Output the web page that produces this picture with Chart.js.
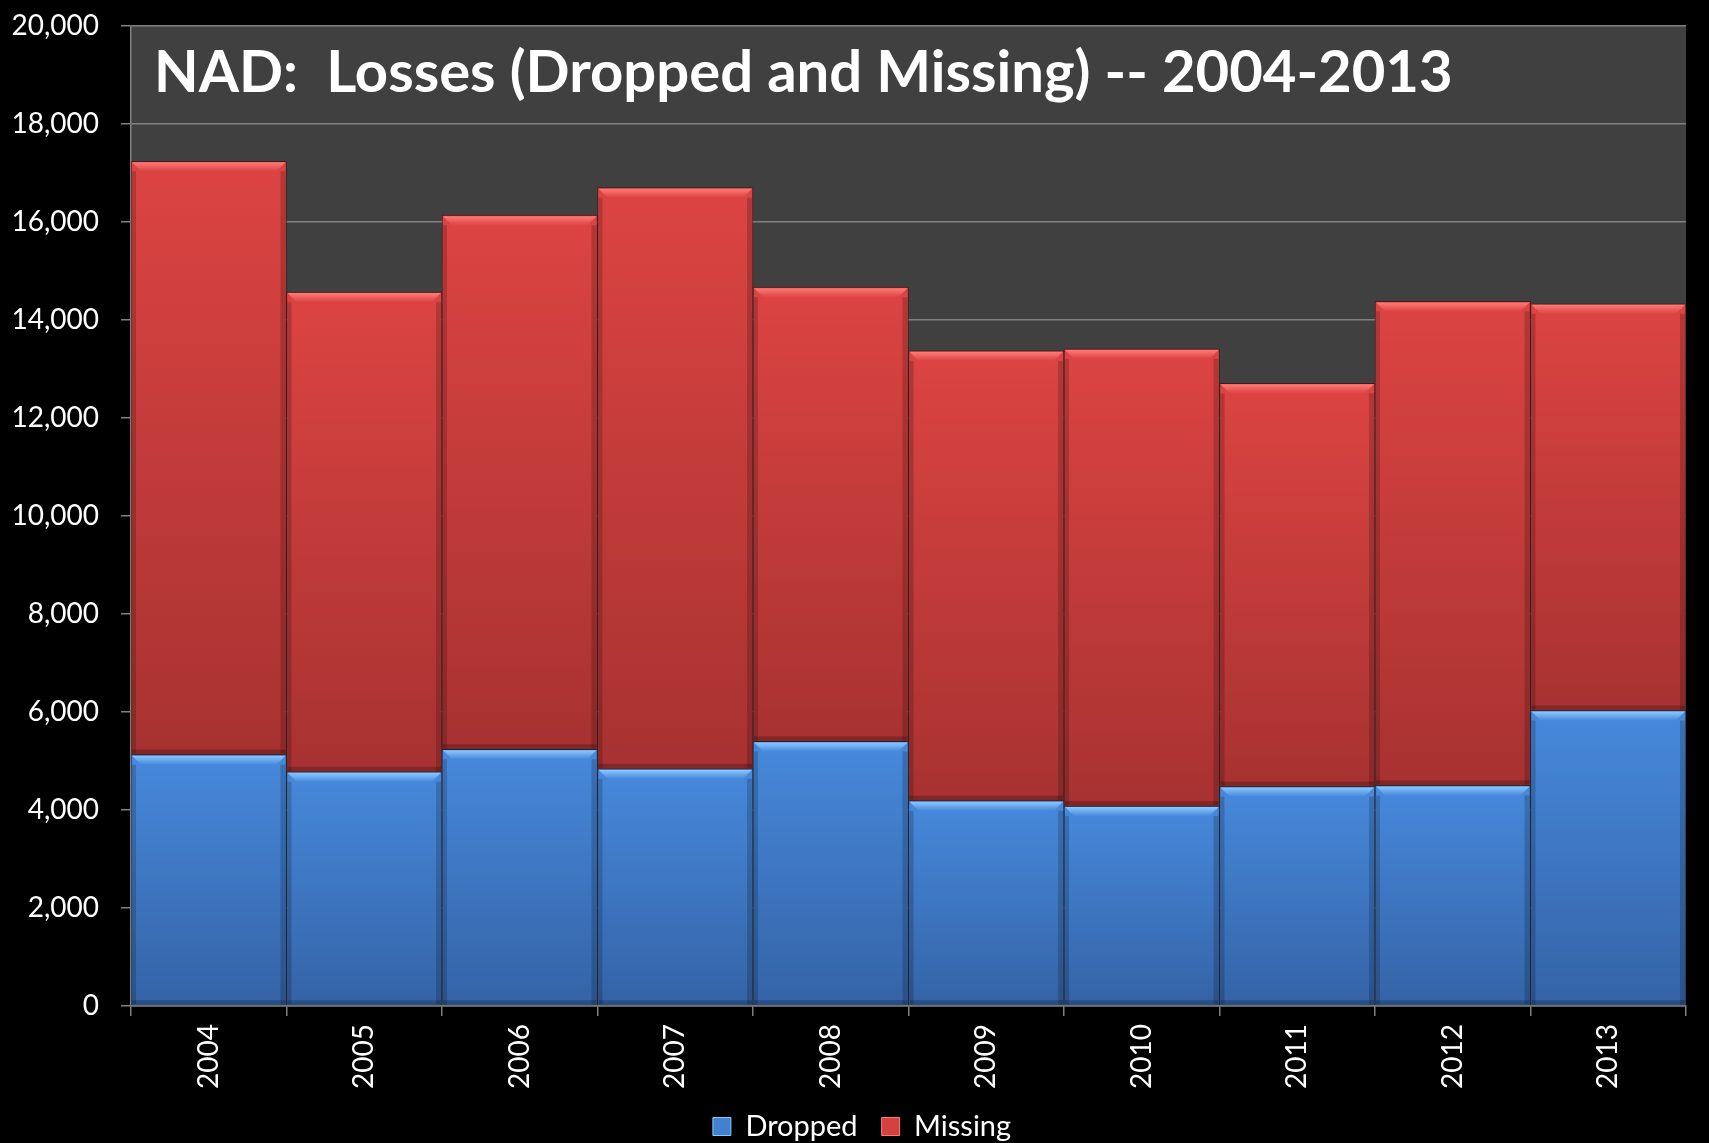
<!DOCTYPE html>
<html>
<head>
<meta charset="utf-8">
<script src="https://cdn.jsdelivr.net/npm/chart.js@4.4.1/dist/chart.umd.min.js"></script>
<style>
  html, body { margin: 0; padding: 0; background: #000; }
  #wrap { width: 1709px; height: 1143px; }
</style>
</head>
<body>
<div id="wrap"><canvas id="myChart"></canvas></div>
<script>
// data
const years = ['2004', '2005', '2006', '2007', '2008', '2009', '2010', '2011', '2012', '2013'];
const dropped = [5130, 4780, 5240, 4840, 5400, 4190, 4080, 4480, 4500, 6030];
const missing = [12110, 9790, 10900, 11860, 9270, 9180, 9330, 8230, 9880, 8300];
const seriesNames = ['Dropped', 'Missing'];
const yTicks = { min: 0, max: 20000, step: 2000 };
const TITLE = 'NAD:  Losses (Dropped and Missing) -- 2004-2013';

const FONT = 'Lato, "Open Sans", sans-serif';
const BLUE = { top: '#4789dc', bottom: '#3463a6', light: '#8cc8ff', solid: '#4181d2' };
const RED = { top: '#dc4442', bottom: '#a73231', light: '#ff7a76', solid: '#d44240' };

// gradient for each stacked segment, top to bottom of that segment
function segmentFill(pal) {
    return function (ctx) {
        const chart = ctx.chart;
        const y = chart.scales.y;
        if (!chart.chartArea || !y || ctx.type !== 'data') return pal.solid;
        const i = ctx.dataIndex;
        let lo = 0, hi = dropped[i];
        if (ctx.datasetIndex === 1) { lo = dropped[i]; hi = dropped[i] + missing[i]; }
        const yTop = y.getPixelForValue(hi);
        const yBot = y.getPixelForValue(lo);
        if (!isFinite(yTop) || !isFinite(yBot) || yTop === yBot) return pal.solid;
        const g = chart.ctx.createLinearGradient(0, yTop, 0, yBot);
        g.addColorStop(0, pal.top);
        g.addColorStop(1, pal.bottom);
        return g;
    };
}

// black page, dark grey plot area
const background = {
    id: 'background',
    beforeDraw(chart) {
        const { ctx, chartArea: a } = chart;
        ctx.save();
        ctx.fillStyle = '#000';
        ctx.fillRect(0, 0, chart.width, chart.height);
        ctx.fillStyle = '#404040';
        ctx.fillRect(a.left, a.top, a.right - a.left, a.bottom - a.top);
        ctx.restore();
    }
};

// center the legend under the plot area rather than the whole canvas
const legendUnderPlot = {
    id: 'legendUnderPlot',
    afterLayout(chart) {
        const lg = chart.legend;
        if (!lg) return;
        lg.left = chart.chartArea.left - 93;
        lg.right = chart.chartArea.right;
    }
};

// bevel strip along the top of each segment
const bevel = {
    id: 'bevel',
    afterDatasetsDraw(chart) {
        const ctx = chart.ctx;
        chart.data.datasets.forEach(function (ds, di) {
            const pal = di === 0 ? BLUE : RED;
            chart.getDatasetMeta(di).data.forEach(function (bar) {
                const l = bar.x - bar.width / 2 + 1, r = bar.x + bar.width / 2 - 1;
                const t = bar.y + 1, d = 9;
                ctx.save();
                const g = ctx.createLinearGradient(0, t, 0, t + d);
                g.addColorStop(0, pal.light);
                g.addColorStop(1, pal.top);
                ctx.fillStyle = g;
                ctx.beginPath();
                ctx.moveTo(l, t);
                ctx.lineTo(r, t);
                ctx.lineTo(r - d, t + d);
                ctx.lineTo(l + d, t + d);
                ctx.closePath();
                ctx.fill();
                // darker edges on the sides and bottom
                ctx.fillStyle = 'rgba(0,0,0,0.18)';
                ctx.fillRect(r - 5, t + d, 5, bar.base - t - d - 1);
                ctx.fillRect(l, t + d, 4, bar.base - t - d - 1);
                ctx.fillStyle = 'rgba(0,0,0,0.22)';
                ctx.fillRect(l, bar.base - 5, r - l, 5);
                ctx.restore();
            });
        });
    }
};

// title written inside the plot area
const plotTitle = {
    id: 'plotTitle',
    afterDatasetsDraw(chart) {
        const { ctx, chartArea: a } = chart;
        ctx.save();
        ctx.font = 'bold 58px ' + FONT;
        ctx.fillStyle = '#ffffff';
        ctx.textAlign = 'left';
        ctx.textBaseline = 'alphabetic';
        ctx.fillText(TITLE, a.left + 23, a.top + 66);
        ctx.restore();
    }
};

const myChart = new Chart(document.getElementById('myChart'), {
    type: 'bar',
    data: {
        labels: years,
        datasets: [{
            label: seriesNames[0],
            data: dropped,
            backgroundColor: segmentFill(BLUE),
            borderColor: 'rgba(20,30,50,0.7)',
            borderWidth: 1,
            categoryPercentage: 1,
            barPercentage: 1
        }, {
            label: seriesNames[1],
            data: missing,
            backgroundColor: segmentFill(RED),
            borderColor: 'rgba(60,15,15,0.7)',
            borderWidth: 1,
            categoryPercentage: 1,
            barPercentage: 1
        }]
    },
    options: {
        responsive: true,
        maintainAspectRatio: false,
        animation: false,
        layout: { padding: { top: 26, right: 23, left: 0, bottom: -8 } },
        plugins: {
            tooltip: { enabled: false },
            legend: {
                position: 'bottom',
                labels: {
                    color: '#ffffff',
                    font: { family: FONT, size: 29 },
                    boxWidth: 18,
                    boxHeight: 18,
                    padding: 24,
                    generateLabels: function (chart) {
                        return seriesNames.map(function (name, i) {
                            const pal = i === 0 ? BLUE : RED;
                            return {
                                text: name,
                                fillStyle: pal.solid,
                                strokeStyle: pal.light,
                                lineWidth: 1,
                                fontColor: '#ffffff',
                                datasetIndex: i,
                                hidden: false
                            };
                        });
                    }
                }
            }
        },
        scales: {
            x: {
                stacked: true,
                grid: { drawOnChartArea: false, drawTicks: true, tickLength: 10, color: '#808080', lineWidth: 1.5 },
                border: { color: '#808080', width: 1.5 },
                ticks: {
                    color: '#ffffff',
                    font: { family: FONT, size: 28 },
                    minRotation: 90,
                    maxRotation: 90,
                    padding: 8
                },
                afterFit: function (scale) { scale.height = 82; }
            },
            y: {
                stacked: true,
                min: yTicks.min,
                max: yTicks.max,
                grid: { color: '#808080', lineWidth: 1.5, tickLength: 10 },
                border: { color: '#808080', width: 1.5 },
                ticks: {
                    stepSize: yTicks.step,
                    color: '#ffffff',
                    font: { family: FONT, size: 28 },
                    padding: 22,
                    callback: function (v) { return v.toLocaleString('en-US'); }
                },
                afterFit: function (scale) {
                    scale.width = 131;
                    scale.paddingTop = 0;
                    scale.paddingBottom = 0;
                }
            }
        }
    },
    plugins: [background, legendUnderPlot, bevel, plotTitle]
});
</script>
</body>
</html>
